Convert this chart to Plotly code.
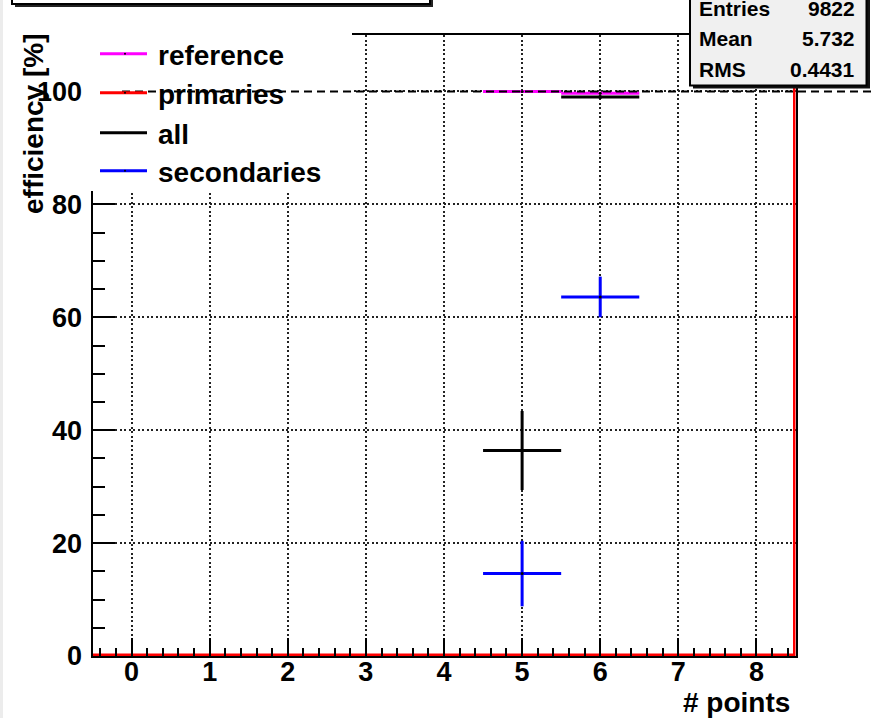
import plotly.graph_objects as go

# ---- data -------------------------------------------------------------
bin_centers = [0, 1, 2, 3, 4, 5, 6, 7, 8]
eff_primaries = [0, 0, 0, 0, 0, 0, 0, 0, 0]

points_filled = [5, 6]
eff_reference = [100.0, 99.7]
err_reference = [0.0, 0.0]
eff_all = [36.4, 99.0]
err_all = [7.0, 0.3]
eff_secondaries = [14.6, 63.6]
err_secondaries = [5.8, 3.6]
bin_half_width = [0.5, 0.5]

x_tick_vals = [0, 1, 2, 3, 4, 5, 6, 7, 8]
y_tick_vals = [0, 20, 40, 60, 80, 100]

stats_labels = ["Entries", "Mean", "RMS"]
stats_values = ["9822", "5.732", "0.4431"]

legend_names = ["reference", "primaries", "all", "secondaries"]
legend_colors = ["#ff00ff", "#ff0000", "#000000", "#0000ff"]

# ---- canvas geometry --------------------------------------------------
W, H = 875, 718
X_RANGE = [-0.5, 8.5]
Y_RANGE = [0, 110]
FRAME_L, FRAME_R, FRAME_T, FRAME_B = 92.5, 795.5, 35, 656
FONT = "Liberation Sans, Arial, Helvetica, sans-serif"


def px(x):
    return x / W


def py(y):
    return 1 - y / H


fig = go.Figure()

# primaries: histogram outline (bin edges, closed at the right edge)
edges = [c - 0.5 for c in bin_centers] + [bin_centers[-1] + 0.5]
prim_y = eff_primaries + [eff_primaries[-1]]
fig.add_trace(go.Scatter(
    x=edges + [edges[-1]], y=prim_y + [Y_RANGE[1]],
    mode="lines", line=dict(color=legend_colors[1], width=5, shape="hv"),
    showlegend=False, hoverinfo="skip"))


def eff_trace(y, err, color):
    return go.Scatter(
        x=points_filled, y=y, mode="markers",
        marker=dict(color="black", size=3),
        error_x=dict(type="data", array=bin_half_width, color=color,
                     thickness=3, width=0),
        error_y=dict(type="data", array=err, color=color,
                     thickness=3, width=0),
        showlegend=False, hoverinfo="skip")


fig.add_trace(eff_trace(eff_reference, err_reference, legend_colors[0]))
fig.add_trace(eff_trace(eff_all, err_all, legend_colors[2]))
fig.add_trace(eff_trace(eff_secondaries, err_secondaries, legend_colors[3]))

shapes = []
# faint left border of the canvas
shapes.append(dict(type="rect", xref="paper", yref="paper",
                   x0=px(0), x1=px(3), y0=0, y1=1,
                   fillcolor="#ececec", line=dict(width=0), layer="below"))
# title box (mostly off the top of the canvas) with shadow
shapes.append(dict(type="rect", xref="paper", yref="paper",
                   x0=px(15), x1=px(433), y0=py(7), y1=py(-20),
                   fillcolor="#222222", line=dict(width=0), layer="above"))
shapes.append(dict(type="rect", xref="paper", yref="paper",
                   x0=px(12), x1=px(430), y0=py(4), y1=py(-20),
                   fillcolor="white", line=dict(color="black", width=2),
                   layer="above"))
# legend pad (white, covers the frame corner)
shapes.append(dict(type="rect", xref="paper", yref="paper",
                   x0=px(88), x1=px(352), y0=py(191), y1=py(28),
                   fillcolor="white", line=dict(width=0), layer="above"))
# 100 % reference line
shapes.append(dict(type="line", xref="paper", yref="y",
                   x0=px(122), x1=1.0, y0=100, y1=100,
                   line=dict(color="black", width=2, dash="8px,5px"),
                   layer="above"))
# stats box with shadow
shapes.append(dict(type="rect", xref="paper", yref="paper",
                   x0=px(693), x1=px(870), y0=py(88.5), y1=py(-20),
                   fillcolor="#111111", line=dict(width=0), layer="above"))
shapes.append(dict(type="rect", xref="paper", yref="paper",
                   x0=px(690), x1=px(866.5), y0=py(85.5), y1=py(-20),
                   fillcolor="#f0f0f0", line=dict(color="black", width=2),
                   layer="above"))

annotations = []
legend_rows = [53.7, 92.7, 132.7, 170.7]
for name, color, row in zip(legend_names, legend_colors, legend_rows):
    shapes.append(dict(type="line", xref="paper", yref="paper",
                       x0=px(100), x1=px(147), y0=py(row), y1=py(row),
                       line=dict(color=color, width=3), layer="above"))
    shapes.append(dict(type="circle", xref="paper", yref="paper",
                       x0=px(124), x1=px(126), y0=py(row + 1), y1=py(row - 1),
                       fillcolor="black", line=dict(width=0), layer="above"))
    annotations.append(dict(
        text=name, xref="paper", yref="paper", x=px(156), y=py(row + 2),
        xanchor="left", yanchor="middle", showarrow=False,
        font=dict(family=FONT, size=28, color="black", weight="bold")))

stats_rows = [8.5, 39, 70]
for lab, val, row in zip(stats_labels, stats_values, stats_rows):
    annotations.append(dict(
        text=lab, xref="paper", yref="paper", x=px(697), y=py(row),
        xanchor="left", yanchor="middle", showarrow=False,
        font=dict(family=FONT, size=21, color="black", weight="bold")))
    annotations.append(dict(
        text=val, xref="paper", yref="paper", x=px(857), y=py(row),
        xanchor="right", yanchor="middle", showarrow=False,
        font=dict(family=FONT, size=21, color="black", weight="bold")))

# axis titles
annotations.append(dict(
    text="# points", xref="paper", yref="paper", x=px(792), y=py(702),
    xanchor="right", yanchor="middle", showarrow=False,
    font=dict(family=FONT, size=28, color="black", weight="bold")))
annotations.append(dict(
    text="efficiency [%]", xref="paper", yref="paper", x=px(33.5),
    y=py(123.5), xanchor="center", yanchor="middle", textangle=-90,
    showarrow=False,
    font=dict(family=FONT, size=28, color="black", weight="bold")))

tick_font = dict(family=FONT, size=27, color="black", weight="bold")
grid_style = dict(showgrid=True, gridcolor="#222222", gridwidth=1.8,
                  griddash="2px,2.5px")

fig.update_layout(
    width=W, height=H,
    margin=dict(l=0, r=0, t=0, b=0),
    paper_bgcolor="white", plot_bgcolor="white",
    showlegend=False,
    shapes=shapes, annotations=annotations,
    xaxis=dict(
        domain=[px(FRAME_L), px(FRAME_R)], range=X_RANGE,
        tickmode="array", tickvals=x_tick_vals,
        ticks="inside", ticklen=18, tickwidth=2, tickcolor="black",
        minor=dict(ticks="inside", ticklen=8, tickwidth=2,
                   tickcolor="black", dtick=0.2, tick0=0, showgrid=False),
        showline=True, linecolor="black", linewidth=2, mirror=True,
        zeroline=False, tickfont=tick_font, ticklabelstandoff=-9,
        automargin=False, fixedrange=True, **grid_style),
    yaxis=dict(
        domain=[py(FRAME_B), py(FRAME_T)], range=Y_RANGE,
        tickmode="array", tickvals=y_tick_vals,
        ticks="inside", ticklen=22, tickwidth=2, tickcolor="black",
        minor=dict(ticks="inside", ticklen=12, tickwidth=2,
                   tickcolor="black", dtick=5, tick0=0, showgrid=False),
        showline=True, linecolor="black", linewidth=2, mirror=True,
        zeroline=False, tickfont=tick_font, ticklabelstandoff=3,
        automargin=False, fixedrange=True, **grid_style),
)

fig.write_html("out.html")
